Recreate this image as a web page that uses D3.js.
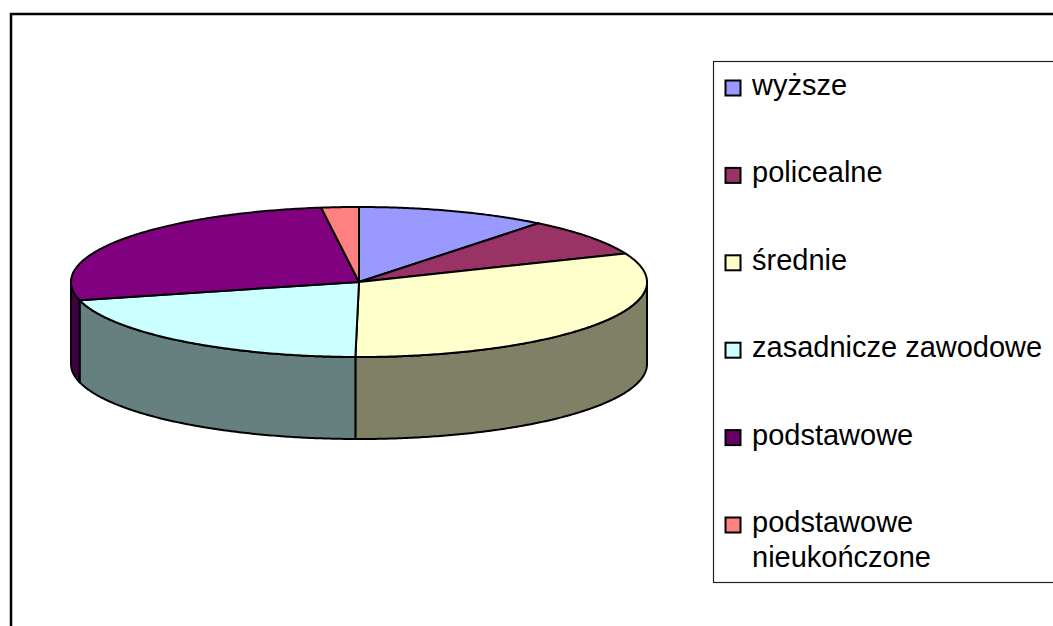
<!DOCTYPE html>
<html>
<head>
<meta charset="utf-8">
<script src="https://cdn.jsdelivr.net/npm/d3@7/dist/d3.min.js"></script>
<style>
  html, body { margin: 0; padding: 0; background: #fff; }
  svg { display: block; }
  text { font-family: "Liberation Sans", Arial, sans-serif; }
</style>
</head>
<body>
<svg id="chart" width="1053" height="626"></svg>
<script>
// ---- data ----
const categories = ["wyższe", "policealne", "średnie", "zasadnicze zawodowe", "podstawowe", "podstawowe nieukończone"];
const values = [10.7, 8.1, 31.4, 20.9, 26.8, 2.1];

// ---- styles ----
const topColors = ["#9999FF", "#993366", "#FFFFCC", "#CCFFFF", "#800080", "#FF8080"];
const legendColors = ["#9999FF", "#993366", "#FFFFCC", "#CCFFFF", "#660066", "#FF8080"];

const svg = d3.select("#chart");

// outer frame
svg.append("rect")
  .attr("x", 11).attr("y", 14)
  .attr("width", 1200).attr("height", 800)
  .attr("fill", "#fff").attr("stroke", "#000").attr("stroke-width", 2.5);

// pie geometry
const cx = 359, cy = 282, rx = 288, ry = 75, depth = 82;
const color = d3.scaleOrdinal().domain(categories).range(topColors);
const sideColor = d3.scaleOrdinal().domain(categories)
  .range(topColors.map(c => {
    const r = d3.rgb(c);
    return d3.rgb(r.r * 0.5, r.g * 0.5, r.b * 0.5).toString();
  }));

const pie = d3.pie().sort(null).value(d => d.v).startAngle(0).endAngle(2 * Math.PI);
const arcs = pie(categories.map((c, i) => ({ c, v: values[i] })));

const pt = (a, dy) => [cx + rx * Math.sin(a), cy - ry * Math.cos(a) + (dy || 0)];
function arcPts(a0, a1, dy) {
  const n = Math.max(2, Math.ceil((a1 - a0) / 0.01));
  return d3.range(n + 1).map(i => pt(a0 + (a1 - a0) * i / n, dy));
}
const line = d3.line();

// sides (front half only: angles in [pi/2, 3pi/2])
const sides = svg.append("g");
arcs.forEach(d => {
  const a0 = Math.max(d.startAngle, Math.PI / 2);
  const a1 = Math.min(d.endAngle, 3 * Math.PI / 2);
  if (a1 <= a0) return;
  const top = arcPts(a0, a1, 0);
  const bot = arcPts(a0, a1, depth).reverse();
  sides.append("path")
    .attr("d", line(top.concat(bot)) + "Z")
    .attr("fill", sideColor(d.data.c))
    .attr("stroke", "#000").attr("stroke-width", 2).attr("stroke-linejoin", "round");
});

// top faces
const tops = svg.append("g");
arcs.forEach(d => {
  const pts = [[cx, cy]].concat(arcPts(d.startAngle, d.endAngle, 0));
  tops.append("path")
    .attr("d", line(pts) + "Z")
    .attr("fill", color(d.data.c))
    .attr("stroke", "#000").attr("stroke-width", 2).attr("stroke-linejoin", "round");
});

// legend
const lg = svg.append("g");
lg.append("rect")
  .attr("x", 713.5).attr("y", 61.5)
  .attr("width", 400).attr("height", 521)
  .attr("fill", "#fff").attr("stroke", "#222").attr("stroke-width", 1.2);

const legendColor = d3.scaleOrdinal().domain(categories).range(legendColors);
const rowY = d3.scalePoint().domain(categories).range([95, 532]);
const maxTextW = 300;

categories.forEach(c => {
  const y = rowY(c);
  lg.append("rect")
    .attr("x", 725.5).attr("y", y - 14.5)
    .attr("width", 15).attr("height", 15)
    .attr("fill", legendColor(c)).attr("stroke", "#000").attr("stroke-width", 2);
  const t = lg.append("text")
    .attr("x", 752).attr("y", y)
    .attr("font-size", 29).attr("fill", "#000")
    .text(c);
  if (t.node().getComputedTextLength() > maxTextW) {
    const words = c.split(" ");
    t.text(null);
    words.forEach((w, i) => {
      t.append("tspan").attr("x", 752).attr("y", y + i * 35).text(w);
    });
  }
});
</script>
</body>
</html>
